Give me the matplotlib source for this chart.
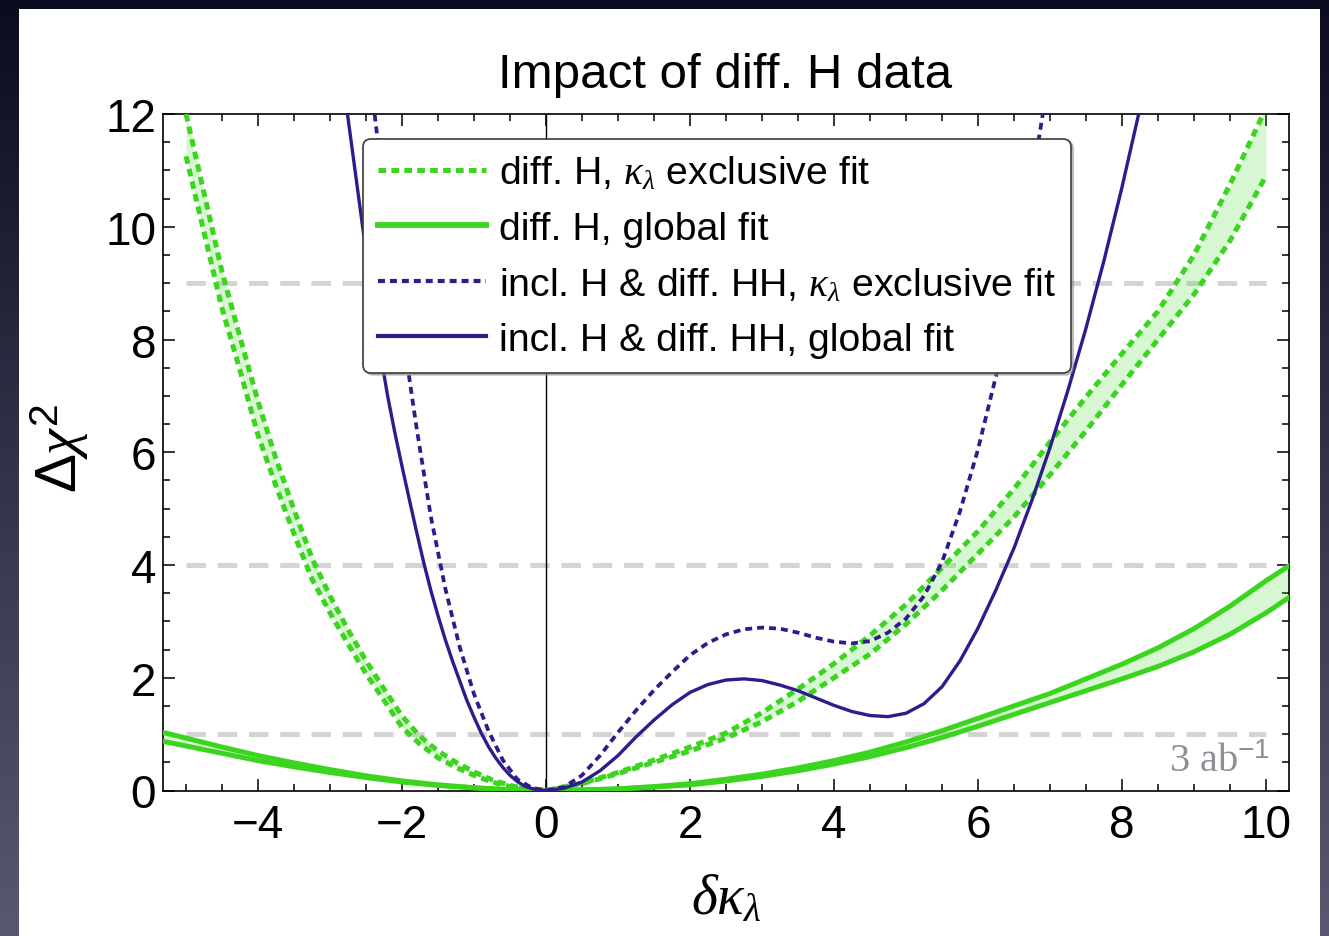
import numpy as np
import matplotlib
matplotlib.use("Agg")
import matplotlib.pyplot as plt
from matplotlib.patches import Rectangle
from matplotlib.lines import Line2D
from matplotlib.ticker import MultipleLocator

plt.rcParams['font.family'] = ['Liberation Sans', 'DejaVu Sans']
plt.rcParams['mathtext.fontset'] = 'custom'
plt.rcParams['mathtext.rm'] = 'Liberation Sans'
plt.rcParams['mathtext.it'] = 'Liberation Serif:italic'
plt.rcParams['mathtext.bf'] = 'Liberation Sans:bold'
plt.rcParams['lines.scale_dashes'] = False

# ---------------- data ----------------
# diff. H, kappa_lambda exclusive fit: band between two curves
green_excl_x = [-5.0, -4.75, -4.5, -4.25, -4.0, -3.75, -3.5, -3.25, -3.0, -2.75, -2.5,
                -2.25, -2.0, -1.75, -1.5, -1.25, -1.0, -0.75, -0.5, -0.25, 0.0, 0.5,
                1.0, 1.5, 2.0, 2.5, 3.0, 3.5, 4.0, 4.5, 5.0, 5.5, 6.0, 6.5, 7.0, 7.5,
                8.0, 8.5, 9.0, 9.5, 10.0]
green_excl_hi = [12.0, 10.6, 9.2, 8.04, 6.9, 5.88, 4.98, 4.12, 3.45, 2.85, 2.3,
                 1.8, 1.32, 0.96, 0.7, 0.5, 0.33, 0.19, 0.09, 0.025, 0.0, 0.13,
                 0.32, 0.54, 0.77, 1.02, 1.38, 1.8, 2.25, 2.75, 3.3, 3.95, 4.6, 5.35, 6.18, 6.98,
                 7.75, 8.5, 9.5, 10.75, 12.1]
green_excl_lo = [11.25, 9.9, 8.55, 7.45, 6.3, 5.4, 4.55, 3.75, 3.15, 2.6, 2.07,
                 1.6, 1.12, 0.82, 0.58, 0.41, 0.27, 0.15, 0.07, 0.02, 0.0, 0.12,
                 0.3, 0.5, 0.7, 0.93, 1.22, 1.58, 2.0, 2.42, 2.95, 3.55, 4.2, 4.85, 5.6, 6.38,
                 7.2, 8.0, 8.8, 9.75, 10.9]

# diff. H, global fit: band between two curves
green_glob_x = [-5.35, -5.0, -4.5, -4.0, -3.5, -3.0, -2.5, -2.0, -1.5, -1.0, -0.5, 0.0,
                0.5, 1.0, 1.5, 2.0, 2.5, 3.0, 3.5, 4.0, 4.5, 5.0, 5.5, 6.0, 6.5, 7.0,
                7.5, 8.0, 8.5, 9.0, 9.5, 10.0, 10.35]
green_glob_hi = [1.04, 0.93, 0.77, 0.62, 0.49, 0.37, 0.26, 0.17, 0.1, 0.05, 0.015, 0.0,
                 0.01, 0.03, 0.07, 0.12, 0.2, 0.29, 0.4, 0.53, 0.68, 0.86, 1.06, 1.28, 1.5, 1.72,
                 1.98, 2.24, 2.53, 2.87, 3.27, 3.72, 4.01]
green_glob_lo = [0.88, 0.79, 0.66, 0.53, 0.42, 0.32, 0.23, 0.15, 0.09, 0.045, 0.012, 0.0,
                 0.008, 0.025, 0.06, 0.1, 0.17, 0.25, 0.35, 0.47, 0.6, 0.76, 0.94, 1.14, 1.35, 1.56,
                 1.77, 1.98, 2.2, 2.46, 2.77, 3.15, 3.45]

# incl. H & diff. HH, kappa_lambda exclusive fit
hh_excl_x = [-2.4, -2.2, -2.0, -1.8, -1.6, -1.4, -1.2, -1.0, -0.8, -0.6, -0.4, -0.2, 0.0,
             0.25, 0.5, 0.75, 1.0, 1.25, 1.5, 1.75, 2.0, 2.25, 2.5, 2.75, 3.0, 3.25, 3.5,
             3.75, 4.0, 4.25, 4.5, 4.75, 5.0, 5.25, 5.5, 5.75, 6.0, 6.25, 6.5, 6.75, 7.0]
hh_excl_y = [12.2, 10.07, 8.2, 6.45, 4.86, 3.59, 2.55, 1.71, 1.06, 0.54, 0.2, 0.05, 0.0,
             0.06, 0.27, 0.62, 1.03, 1.42, 1.78, 2.1, 2.4, 2.62, 2.77, 2.86, 2.89, 2.87, 2.8,
             2.71, 2.64, 2.61, 2.65, 2.8, 3.05, 3.45, 4.05, 4.95, 6.05, 7.35, 8.95, 10.8, 12.8]

# incl. H & diff. HH, global fit
hh_glob_x = [-2.8, -2.7, -2.6, -2.5, -2.4, -2.3, -2.2, -2.1, -2.0, -1.9, -1.8, -1.7, -1.6,
             -1.5, -1.4, -1.3, -1.2, -1.1, -1.0, -0.9, -0.8, -0.7, -0.6, -0.5, -0.4, -0.3,
             -0.2, -0.1, 0.0, 0.25, 0.5, 0.75, 1.0, 1.25, 1.5, 1.75, 2.0, 2.25, 2.5, 2.75,
             3.0, 3.25, 3.5, 3.75, 4.0, 4.25, 4.5, 4.75, 5.0, 5.25, 5.5, 5.75, 6.0, 6.25,
             6.5, 6.75, 7.0, 7.25, 7.5, 7.75, 8.0, 8.25, 8.5]
hh_glob_y = [12.4, 11.45, 10.5, 9.55, 8.62, 7.75, 7.0, 6.35, 5.75, 5.17, 4.6, 4.05, 3.55,
             3.1, 2.68, 2.3, 1.95, 1.6, 1.3, 1.02, 0.78, 0.58, 0.41, 0.27, 0.16, 0.08,
             0.035, 0.01, 0.0, 0.04, 0.15, 0.35, 0.62, 0.95, 1.25, 1.52, 1.74, 1.88, 1.96,
             1.98, 1.95, 1.87, 1.77, 1.64, 1.51, 1.4, 1.33, 1.31, 1.37, 1.54, 1.84, 2.3,
             2.88, 3.56, 4.3, 5.15, 6.08, 7.1, 8.2, 9.4, 10.7, 12.1, 13.6]

ref_levels = [1, 4, 9]
ref_span = [-5.0, 10.0]

x_ticks = [-4, -2, 0, 2, 4, 6, 8, 10]
y_ticks = [0, 2, 4, 6, 8, 10, 12]

labels = [r"diff. H, $\kappa_\lambda$ exclusive fit",
          "diff. H, global fit",
          r"incl. H & diff. HH, $\kappa_\lambda$ exclusive fit",
          "incl. H & diff. HH, global fit"]

GREEN = '#3bd41f'
BLUE = '#2e1b8c'

# ---------------- figure ----------------
W, H = 1329, 937
fig = plt.figure(figsize=(W / 100, H / 100), dpi=100)

# slide background: dark vertical gradient with a white panel on top
bg = fig.add_axes([0, 0, 1, 1], zorder=-10)
bg.set_axis_off()
t = np.linspace(0, 1, 256)[:, None]
top = np.array([12, 12, 32]) / 255
bot = np.array([88, 88, 112]) / 255
grad = top[None, None, :] * (1 - t[..., None]) + bot[None, None, :] * t[..., None]
grad = np.repeat(grad, 4, axis=1)
bg.imshow(grad, extent=[0, 1, 0, 1], aspect='auto', origin='upper')
bg.add_patch(Rectangle((19 / W, 0), (1320 - 19) / W, (H - 10) / H,
                       facecolor='white', edgecolor='none'))
bg.set_xlim(0, 1)
bg.set_ylim(0, 1)

ax = fig.add_axes([163 / W, (H - 791.5) / H, (1289 - 163) / W, (791.5 - 115) / H])
ax.set_facecolor('white')

# reference levels
for lv in ref_levels:
    ax.plot(ref_span, [lv, lv], color='#d4d4d4', lw=3.6, dashes=(14, 8.5),
            solid_capstyle='butt', dash_capstyle='butt', zorder=1)

ax.axvline(0, color='black', lw=1.0, zorder=1.5)

# bands
ax.fill_between(green_excl_x, green_excl_lo, green_excl_hi, color=GREEN, alpha=0.2,
                lw=0, zorder=2)
ax.fill_between(green_glob_x, green_glob_lo, green_glob_hi, color=GREEN, alpha=0.2,
                lw=0, zorder=2)

dot_g = dict(color=GREEN, lw=3.6, dashes=(5.5, 3.8), dash_capstyle='butt', zorder=3)
ax.plot(green_excl_x, green_excl_hi, **dot_g)
ax.plot(green_excl_x, green_excl_lo, **dot_g)

ax.plot(green_glob_x, green_glob_hi, color=GREEN, lw=3.6, zorder=3)
ax.plot(green_glob_x, green_glob_lo, color=GREEN, lw=3.6, zorder=3)

ax.plot(hh_excl_x, hh_excl_y, color=BLUE, lw=2.7, dashes=(5.0, 3.6),
        dash_capstyle='butt', zorder=4)
ax.plot(hh_glob_x, hh_glob_y, color=BLUE, lw=2.4, zorder=4)

ax.set_xlim(-5.32, 10.32)
ax.set_ylim(0, 12)
ax.set_xticks(x_ticks)
ax.set_xticklabels([str(v).replace('-', '\u2212') for v in x_ticks])
ax.set_yticks(y_ticks)
ax.xaxis.set_minor_locator(MultipleLocator(0.5))
ax.yaxis.set_minor_locator(MultipleLocator(0.5))
ax.tick_params(which='both', direction='in', top=True, right=True, width=1.1,
               colors='black')
ax.tick_params(which='major', length=8.6, labelsize=33, pad=9)
ax.tick_params(axis='y', which='major', pad=5)
ax.tick_params(which='minor', length=5.2)
for s in ax.spines.values():
    s.set_linewidth(1.2)

# legend with proxy handles
handles = [
    Line2D([], [], color=GREEN, lw=3.6, dashes=(5.5, 3.8), dash_capstyle='butt'),
    Line2D([], [], color=GREEN, lw=4.2),
    Line2D([], [], color=BLUE, lw=3.0, dashes=(5.0, 3.6), dash_capstyle='butt'),
    Line2D([], [], color=BLUE, lw=3.0),
]
leg = ax.legend(handles, labels, loc='upper left', bbox_to_anchor=(0.178, 0.963),
                fontsize=28.3, handlelength=2.75, handletextpad=0.33,
                labelspacing=0.48, borderpad=0.38, borderaxespad=0,
                frameon=True, fancybox=True,
                shadow={'color': '#888888', 'alpha': 0.45, 'ox': 1.5, 'oy': -1.5})
leg.get_frame().set_edgecolor('#3a3a3a')
leg.get_frame().set_linewidth(1.2)
leg.get_frame().set_alpha(1)
leg.set_zorder(10)

ax.text(0.983, 0.029, r"3 ab$^{-1}$", transform=ax.transAxes, ha='right',
        va='baseline', fontsize=29, color='#8c8e98', family='Liberation Serif')

# titles and axis labels
fig.text(725 / W, (H - 88) / H, "Impact of diff. H data", ha='center', va='baseline',
         fontsize=35.5)
fig.text(60 / W, (H - 448) / H, r"$\Delta\chi^2$", rotation=90, ha='center',
         va='center', fontsize=42)
fig.text(726 / W, (H - 900) / H, r"$\delta\kappa_\lambda$", ha='center', va='center',
         fontsize=40)

fig.savefig("out.png", dpi=100)
